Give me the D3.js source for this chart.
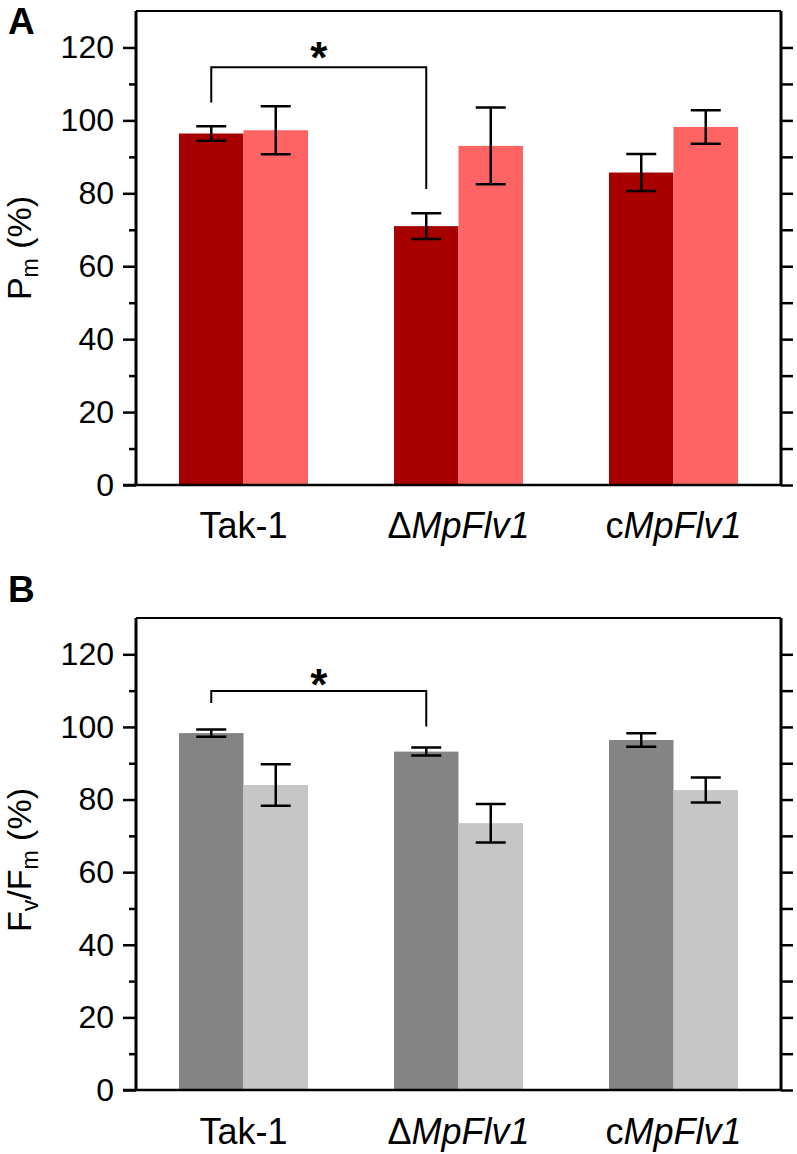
<!DOCTYPE html>
<html><head><meta charset="utf-8">
<script src="https://cdn.jsdelivr.net/npm/d3@7"></script>
<style>body{margin:0;background:#fff}svg{display:block}text{font-family:"Liberation Sans",Arial,sans-serif}</style>
</head><body><svg id="c" width="797" height="1154"></svg>
<script>
const groups = ["Tak-1", "ΔMpFlv1", "cMpFlv1"];
const series = ["dark", "light"];
const majorTicks = [0, 20, 40, 60, 80, 100, 120];
const minorTicks = [10, 30, 50, 70, 90, 110];
// Panel A: Pm (%)
const pmDark = [96.4, 71.0, 85.7];
const pmDarkErr = [2.0, 3.5, 5.1];
const pmLight = [97.3, 93.0, 98.2];
const pmLightErr = [6.6, 10.5, 4.6];
// Panel B: Fv/Fm (%)
const fvDark = [98.3, 93.2, 96.4];
const fvDarkErr = [1.0, 1.1, 1.85];
const fvLight = [84.0, 73.5, 82.6];
const fvLightErr = [5.7, 5.3, 3.45];
// significance brackets: [fromGroup, toGroup, barTop, leftEnd, rightEnd, starY]
const pmBracket = [0, 1, 114.6, 104.9, 81.2, 119.8];
const fvBracket = [0, 1, 109.9, 106.6, 100.1, 114.2];

const svg = d3.select("#c");

function panel(cfg) {
  const g = svg.append("g");
  const x = d3.scaleBand().domain(groups).range([136, 781]).paddingInner(0.4).paddingOuter(0.2);
  const xs = d3.scaleBand().domain(series).range([0, x.bandwidth()]);
  const y = d3.scaleLinear().domain([0, 130]).range([cfg.bottom, cfg.top]);

  const rows = groups.map((gr, i) => [
    {g: gr, s: "dark", v: cfg.dark[i], e: cfg.darkErr[i], c: cfg.colors[0]},
    {g: gr, s: "light", v: cfg.light[i], e: cfg.lightErr[i], c: cfg.colors[1]}
  ]).flat();

  g.selectAll("rect.bar").data(rows).join("rect")
    .attr("x", d => x(d.g) + xs(d.s)).attr("width", xs.bandwidth())
    .attr("y", d => y(d.v)).attr("height", d => y(0) - y(d.v))
    .attr("fill", d => d.c);

  const cx = d => x(d.g) + xs(d.s) + xs.bandwidth() / 2;
  const eb = g.append("g").attr("stroke", "#000").attr("stroke-width", 2.5).attr("fill", "none");
  eb.selectAll("path").data(rows).join("path")
    .attr("d", d => {
      const c = cx(d), t = y(d.v + d.e), b = y(d.v - d.e), w = 15;
      return `M${c - w},${t}H${c + w}M${c},${t}V${b}M${c - w},${b}H${c + w}`;
    });

  // axes
  g.append("g").attr("transform", `translate(136,0)`)
    .call(d3.axisLeft(y).tickValues(majorTicks).tickSize(13).tickPadding(9).tickSizeOuter(0))
    .call(a => { a.select(".domain").remove(); a.selectAll("line").attr("stroke-width", 2.5);
      a.selectAll("text").attr("font-size", 32).attr("fill", "#000"); });
  g.append("g").attr("transform", `translate(136,0)`)
    .call(d3.axisLeft(y).tickValues(minorTicks).tickSize(7).tickFormat(""))
    .call(a => { a.select(".domain").remove(); a.selectAll("line").attr("stroke-width", 2.5); });
  g.append("g").attr("transform", `translate(781,0)`)
    .call(d3.axisRight(y).tickValues(majorTicks.concat(minorTicks)).tickSize(12).tickFormat(""))
    .call(a => { a.select(".domain").remove(); a.selectAll("line").attr("stroke-width", 2.5); });

  const fr = g.append("g").attr("stroke", "#000").attr("fill", "none");
  fr.append("line").attr("x1", 136).attr("x2", 136).attr("y1", y(130)).attr("y2", y(0)).attr("stroke-width", 3);
  fr.append("line").attr("x1", 781).attr("x2", 781).attr("y1", y(130)).attr("y2", y(0)).attr("stroke-width", 3);
  fr.append("line").attr("x1", 136).attr("x2", 781).attr("y1", y(130)).attr("y2", y(130)).attr("stroke-width", 2);
  fr.append("line").attr("x1", 123).attr("x2", 781).attr("y1", y(0)).attr("y2", y(0)).attr("stroke-width", 2.5);

  // category labels
  const lab = g.selectAll("text.cat").data(groups).join("text").attr("class", "cat")
    .attr("x", d => x(d) + x.bandwidth() / 2).attr("y", cfg.labelY)
    .attr("text-anchor", "middle").attr("font-size", 36);
  lab.each(function(d) {
    const t = d3.select(this);
    if (d.startsWith("Δ")) { t.append("tspan").text("Δ"); t.append("tspan").attr("font-style", "italic").text(d.slice(1)); }
    else if (d.startsWith("c")) { t.append("tspan").text("c"); t.append("tspan").attr("font-style", "italic").text(d.slice(1)); }
    else t.text(d);
  });

  // bracket
  const br = cfg.bracket;
  const bx1 = x(groups[br[0]]) + xs("dark") + xs.bandwidth() / 2;
  const bx2 = x(groups[br[1]]) + xs("dark") + xs.bandwidth() / 2;
  g.append("path").attr("fill", "none").attr("stroke", "#000").attr("stroke-width", 2)
    .attr("d", `M${bx1},${y(br[3])}V${y(br[2])}H${bx2}V${y(br[4])}`);
  g.append("text").attr("x", (bx1 + bx2) / 2).attr("y", y(br[5]) + 25)
    .attr("text-anchor", "middle").attr("font-size", 44).attr("font-weight", "bold").text("*");

  // y title
  const yt = g.append("text").attr("transform", `translate(${cfg.titleX},${(cfg.top + cfg.bottom) / 2 + cfg.titleDy}) rotate(-90)`)
    .attr("text-anchor", "middle").attr("font-size", 34);
  cfg.title(yt);

  // panel letter
  g.append("text").attr("x", 8).attr("y", cfg.letterY).attr("font-size", 37).attr("font-weight", "bold").text(cfg.letter);
}

panel({top: 11, bottom: 485, dark: pmDark, darkErr: pmDarkErr, light: pmLight, lightErr: pmLightErr,
  colors: ["#a80000", "#ff6464"], labelY: 538, bracket: pmBracket, letter: "A", letterY: 34,
  titleX: 31, titleDy: 0,
  title: t => { t.append("tspan").text("P"); t.append("tspan").attr("font-size", 23).attr("dy", 7).text("m");
    t.append("tspan").attr("dy", -7).text(" (%)"); }});
panel({top: 618, bottom: 1090, dark: fvDark, darkErr: fvDarkErr, light: fvLight, lightErr: fvLightErr,
  colors: ["#848484", "#c6c6c6"], labelY: 1144, bracket: fvBracket, letter: "B", letterY: 602,
  titleX: 31, titleDy: 6,
  title: t => { t.append("tspan").text("F"); t.append("tspan").attr("font-size", 23).attr("dy", 7).text("v");
    t.append("tspan").attr("dy", -7).text("/F"); t.append("tspan").attr("font-size", 23).attr("dy", 7).text("m");
    t.append("tspan").attr("dy", -7).text(" (%)"); }});
</script></body></html>
